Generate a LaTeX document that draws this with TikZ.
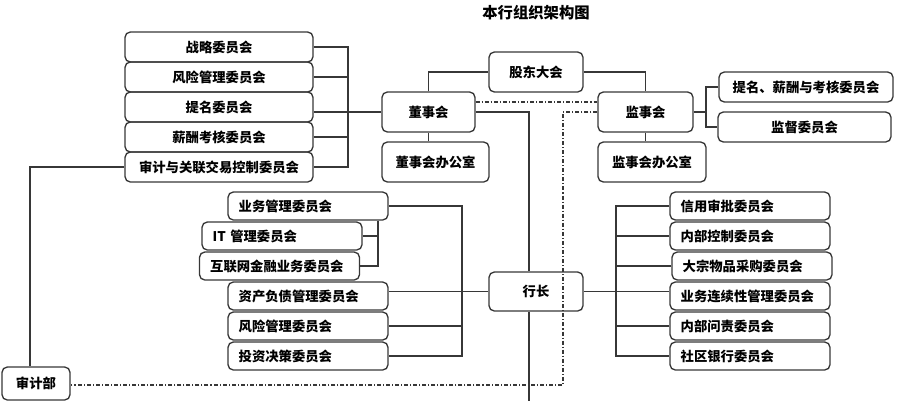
\documentclass[tikz,border=0pt]{standalone}
\usepackage{fontspec}
\usepackage{xcolor}
\usepackage{tikz}
\newfontfamily\cjk{Noto Sans CJK SC}
\definecolor{lineclr}{RGB}{55,55,55}

\tikzset{
  orgbox/.style={draw=lineclr, line width=1pt, rounded corners=4pt, inner sep=0pt,
    font=\cjk\bfseries\fontsize{10}{12}\selectfont, align=center},
  orgleft/.style={orgbox, inner xsep=8pt, text width=#1, align=left},
  conn/.style={draw=lineclr, line width=0.8pt},
  dashdotline/.style={conn, dash pattern=on 3pt off 1.5pt on 0.8pt off 1.5pt}
}

\begin{document}
\begin{tikzpicture}[x=0.75pt,y=0.75pt,yscale=-1,xscale=1]
\useasboundingbox (0,0) rectangle (913,401);

% Title
\node (title) at (536,13) [font=\cjk\bfseries\fontsize{11.5}{13}\selectfont] {本行组织架构图};

% Board committees
\node (zl) at (219,47) [orgbox, minimum width=141pt, minimum height=22.5pt] {战略委员会};
\node (fx) at (219,77) [orgbox, minimum width=141pt, minimum height=22.5pt] {风险管理委员会};
\node (tm) at (219,107) [orgbox, minimum width=141pt, minimum height=22.5pt] {提名委员会};
\node (xc) at (219,137) [orgbox, minimum width=141pt, minimum height=22.5pt] {薪酬考核委员会};
\node (sj) at (219,167) [orgbox, minimum width=141pt, minimum height=22.5pt] {审计与关联交易控制委员会};

% Top level
\node (gd) at (536,72) [orgbox, minimum width=70.5pt, minimum height=30pt] {股东大会};
\node (dsh) at (428.5,112) [orgbox, minimum width=69.75pt, minimum height=30pt] {董事会};
\node (dshb) at (435.5,162) [orgbox, minimum width=80.25pt, minimum height=30pt] {董事会办公室};
\node (jsh) at (645.5,112) [orgbox, minimum width=71.25pt, minimum height=30pt] {监事会};
\node (jshb) at (652,162) [orgbox, minimum width=81pt, minimum height=30pt] {监事会办公室};

% Supervisory committees
\node (tmxc) at (806,87) [orgbox, minimum width=130.5pt, minimum height=22.5pt] {提名、薪酬与考核委员会};
\node (jd) at (804.5,127) [orgbox, minimum width=129.75pt, minimum height=22.5pt] {监督委员会};

% President
\node (hz) at (536,291.5) [orgbox, minimum width=70.5pt, minimum height=29.25pt] {行长};

% Left committees of the president
\node (yw) at (308,206) [orgleft=104pt, minimum height=21pt] {业务管理委员会};
\node (it) at (282,236) [orgleft=104pt, minimum height=21pt] {IT 管理委员会};
\node (hlw) at (279.5,266) [orgleft=104pt, minimum height=21pt] {互联网金融业务委员会};
\node (zc) at (308,296) [orgleft=104pt, minimum height=21pt] {资产负债管理委员会};
\node (fxgl) at (308,326) [orgleft=104pt, minimum height=21pt] {风险管理委员会};
\node (tz) at (308,356) [orgleft=104pt, minimum height=21pt] {投资决策委员会};

% Right committees of the president
\node (xy) at (750,206) [orgleft=104pt, minimum height=21pt] {信用审批委员会};
\node (nk) at (750,236) [orgleft=104pt, minimum height=21pt] {内部控制委员会};
\node (dz) at (752,266) [orgleft=104pt, minimum height=21pt] {大宗物品采购委员会};
\node (yl) at (750,296) [orgleft=104pt, minimum height=21pt] {业务连续性管理委员会};
\node (nw) at (750,326) [orgleft=104pt, minimum height=21pt] {内部问责委员会};
\node (sq) at (750,356) [orgleft=104pt, minimum height=21pt] {社区银行委员会};

% Audit department
\node (sjb) at (36,383.5) [orgbox, minimum width=51pt, minimum height=24.75pt] {审计部};

% Bus points
\coordinate (lbus) at (348,112);
\coordinate (rbus) at (706,112);
\coordinate (trunk) at (529,401);
\coordinate (dbus) at (563,385);
\coordinate (hlbus) at (462,290);
\coordinate (hrbus) at (616,290);
\coordinate (itbus) at (378,220);
\coordinate (dashy) at (0,102);

% Board committees to board
\draw [conn] (zl.east) -| (lbus |- sj.east) -- (sj.east);
\draw [conn] (fx.east) -- (fx.east -| lbus);
\draw [conn] (tm.east |- dsh.west) -- (dsh.west);
\draw [conn] (xc.east) -- (xc.east -| lbus);

% Shareholders, board, supervisors
\draw [conn] (dsh.north) |- (gd.west);
\draw [conn] (gd.east) -| (jsh.north);
\draw [conn] (dsh.south) -- (dsh.south |- dshb.north);
\draw [conn] (jsh.south) -- (jsh.south |- jshb.north);
\draw [dashdotline] (dsh.east |- dashy) -- (jsh.west |- dashy);

% Supervisory committees
\draw [conn] (jsh.east) -- (rbus);
\draw [conn] (tmxc.west) -| (rbus) |- (jd.west);

% Board to president
\draw [conn] (dsh.east) -| (trunk |- hz.north);
\draw [conn] (trunk |- hz.south) -- (trunk);

% Audit department
\draw [conn] (sjb.north -| 30,0) |- (sj.west);
\draw [dashdotline] (jsh.west) -| (dbus) -- (dbus -| sjb.east);

% President left
\draw [conn] (hz.west) -- (hz.west -| zc.east);
\draw [conn] (yw.east) -| (hlbus |- tz.east) -- (tz.east);
\draw [conn] (fxgl.east) -- (fxgl.east -| hlbus);
\draw [conn] (itbus |- yw.south) |- (hlw.east);
\draw [conn] (it.east) -- (it.east -| itbus);

% President right
\draw [conn] (hz.east) -- (hz.east -| yl.west);
\draw [conn] (xy.west) -| (hrbus |- sq.west) -- (sq.west);
\draw [conn] (nk.west) -- (nk.west -| hrbus);
\draw [conn] (dz.west) -- (dz.west -| hrbus);
\draw [conn] (nw.west) -- (nw.west -| hrbus);

\end{tikzpicture}
\end{document}
